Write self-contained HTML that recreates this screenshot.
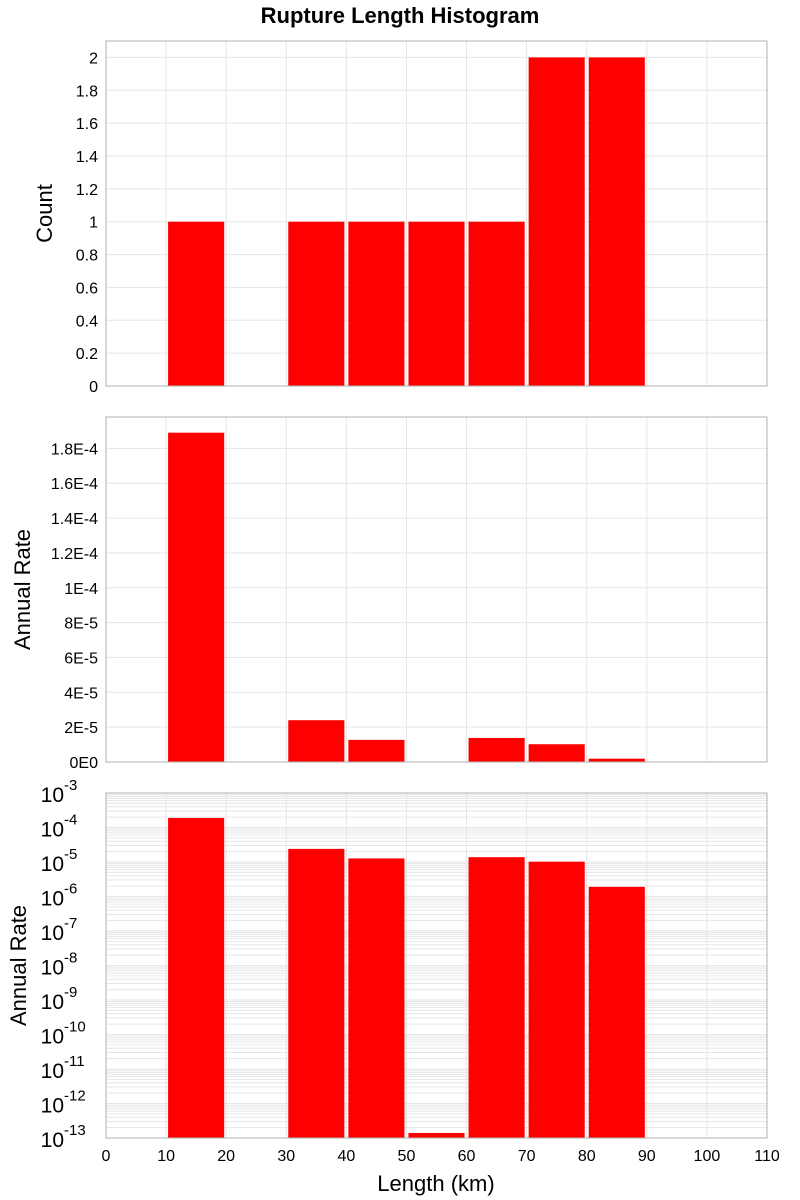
<!DOCTYPE html>
<html><head><meta charset="utf-8"><style>
body{margin:0;background:#fff;}
svg{display:block;font-family:"Liberation Sans","DejaVu Sans",sans-serif;}
</style></head><body>
<svg id="c" width="800" height="1200" xmlns="http://www.w3.org/2000/svg">
<text x="400" y="23" text-anchor="middle" font-size="22" font-weight="bold">Rupture Length Histogram</text>
</svg>
<script>
const binStarts=[10,30,40,50,60,70,80];
const counts=[1,1,1,1,1,2,2];
const rates=[1.89e-4,2.4e-5,1.27e-5,1.4e-13,1.38e-5,1.02e-5,1.9e-6];
const xTicks=[0,10,20,30,40,50,60,70,80,90,100,110];
const countTicks=[0,0.2,0.4,0.6,0.8,1,1.2,1.4,1.6,1.8,2];
const countLabels=["0","0.2","0.4","0.6","0.8","1","1.2","1.4","1.6","1.8","2"];
const rateTicks=[0,2e-5,4e-5,6e-5,8e-5,1e-4,1.2e-4,1.4e-4,1.6e-4,1.8e-4];
const rateLabels=["0E0","2E-5","4E-5","6E-5","8E-5","1E-4","1.2E-4","1.4E-4","1.6E-4","1.8E-4"];
const logExps=[-3,-4,-5,-6,-7,-8,-9,-10,-11,-12,-13];
const binWidth=10;

const svg=document.getElementById('c');
const NS='http://www.w3.org/2000/svg';
const X0=106,X1=767,xMin=0,xMax=110;
const sx=v=>X0+(v-xMin)/(xMax-xMin)*(X1-X0);
function el(t,a,p){const e=document.createElementNS(NS,t);for(const k in a)e.setAttribute(k,a[k]);(p||svg).appendChild(e);return e;}

const panels=[
 {top:41,bot:386,min:0,max:2.1,log:false,vals:counts,ticks:countTicks,labels:countLabels,title:'Count',tx:52,name:'count'},
 {top:417,bot:762,min:0,max:1.98e-4,log:false,vals:rates,ticks:rateTicks,labels:rateLabels,title:'Annual Rate',tx:30,name:'rate-linear'},
 {top:793,bot:1138,min:-13,max:-3,log:true,vals:rates,title:'Annual Rate',tx:26,name:'rate-log'}
];
panels.forEach(p=>{
 const g=el('g',{});
 
 
 const sy=v=>{const t=p.log?Math.log10(Math.max(v,1e-20)):v;return p.bot-(t-p.min)/(p.max-p.min)*(p.bot-p.top);};
 // grid
 xTicks.forEach(t=>{const l=el('line',{x1:sx(t),x2:sx(t),y1:p.top,y2:p.bot,stroke:'#e6e6e6','stroke-width':1},g);
  });
 if(p.log){
  logExps.forEach(e=>{for(let m=1;m<10;m++){const v=m*Math.pow(10,e);if(Math.log10(v)>p.max+1e-9)continue;
   const l=el('line',{x1:X0,x2:X1,y1:sy(v),y2:sy(v),stroke:'#e6e6e6','stroke-width':1},g);
   }});
 } else {
  p.ticks.forEach(t=>{const l=el('line',{x1:X0,x2:X1,y1:sy(t),y2:sy(t),stroke:'#e6e6e6','stroke-width':1},g);
   });
 }
 // bars
 binStarts.forEach((b,i)=>{
  const y=sy(p.vals[i]);
  const r=el('rect',{x:sx(b)+2,y:y,width:sx(b+binWidth)-sx(b)-4,height:Math.max(0,p.bot-y),fill:'#ff0000'},g);
  
  
 });
 const f=el('rect',{x:X0,y:p.top,width:X1-X0,height:p.bot-p.top,fill:'none',stroke:'#b0b0b0','stroke-width':1},g);
 
 // y labels
 if(p.log){
  logExps.forEach(e=>{const y=sy(Math.pow(10,e));
   const t=el('text',{x:64,y:y+9,'font-size':21,'text-anchor':'end'},g);t.textContent='10';
   
   const s=el('text',{x:64,y:y-3,'font-size':15},g);s.textContent=String(e);
   });
 } else {
  p.ticks.forEach((t,i)=>{const tx=el('text',{x:X0-8,y:sy(t)+6,'font-size':16,'text-anchor':'end'},g);tx.textContent=p.labels[i];
   });
 }
 const cy=(p.top+p.bot)/2;
 const yt=el('text',{x:p.tx,y:cy,'font-size':22,'text-anchor':'middle',transform:`rotate(-90 ${p.tx} ${cy})`},g);
 yt.textContent=p.title;
});
xTicks.forEach(t=>{const tx=el('text',{x:sx(t),y:1161,'font-size':16,'text-anchor':'middle'});tx.textContent=t;
 });
const xt=el('text',{x:436,y:1191,'font-size':22,'text-anchor':'middle'});xt.textContent='Length (km)';

</script>
</body></html>
